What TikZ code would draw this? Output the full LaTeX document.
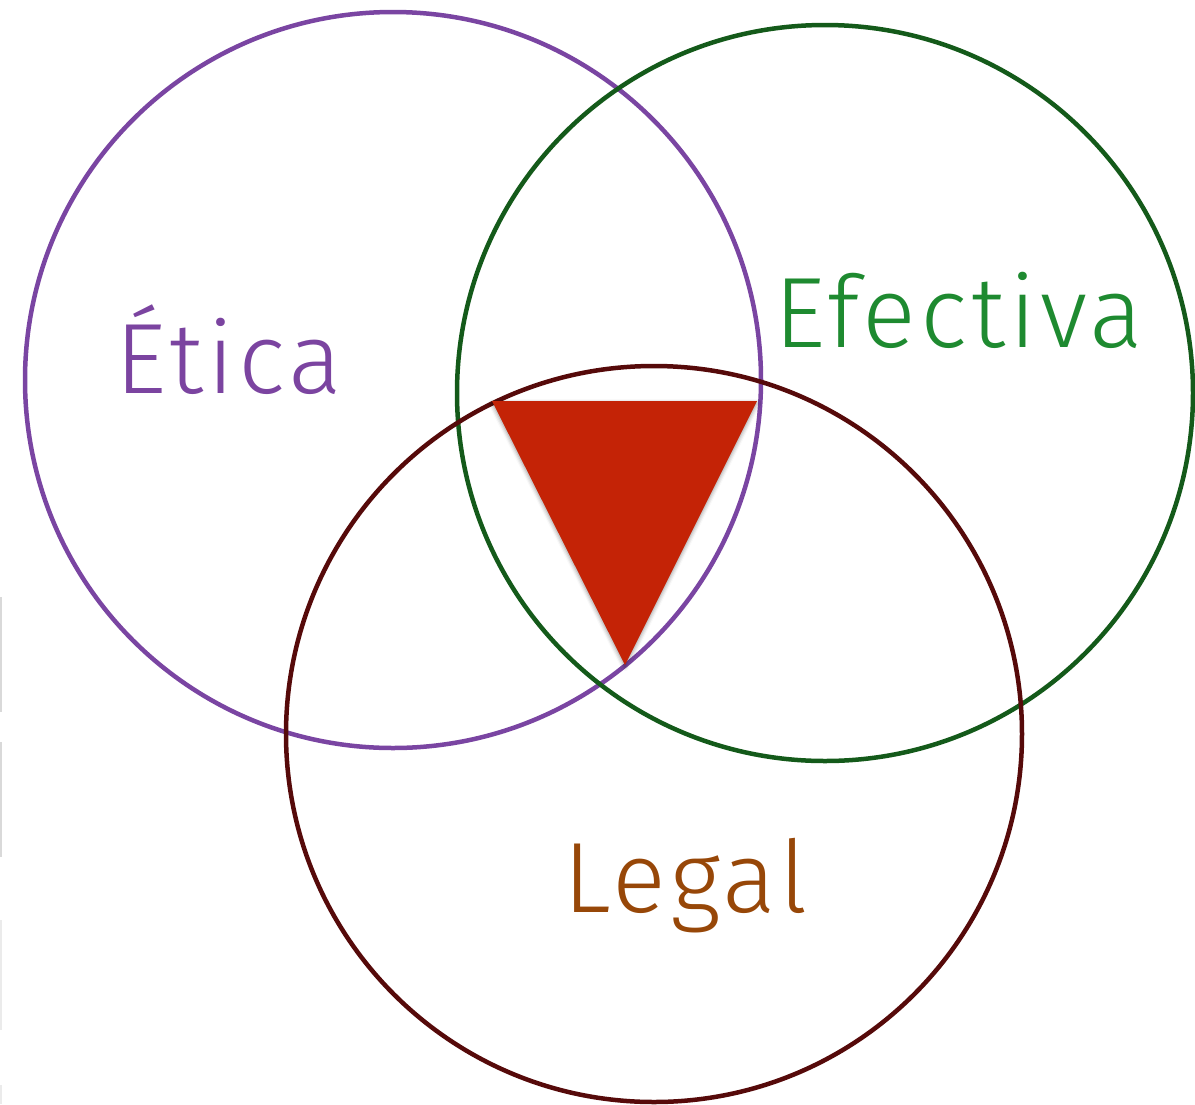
\documentclass[tikz,border=0pt]{standalone}
\usepackage{fontspec}
\newfontfamily\lbl[LetterSpace=4]{Fira Sans Light}
\usetikzlibrary{shadows.blur}
\definecolor{ringP}{HTML}{7A45A2}
\definecolor{ringG}{HTML}{145A1A}
\definecolor{ringR}{HTML}{560A0A}
\definecolor{txtP}{HTML}{7B44A0}
\definecolor{txtG}{HTML}{1E8A30}
\definecolor{txtB}{HTML}{974708}
\definecolor{tri}{HTML}{C42306}
\tikzset{
  ring/.style={circle, draw, line width=4.5pt, minimum size=736pt, inner sep=0pt},
  lab/.style={font=\lbl\fontsize{100}{100}\selectfont, anchor=base west, inner sep=0pt},
  edgebox/.style={draw=black!15, line width=2pt}
}
\begin{document}
\begin{tikzpicture}[x=1pt,y=-1pt]
\useasboundingbox (0,0) rectangle (1195,1104);
\node[ring, draw=ringP] (etica) at (393,380) {};
\node[ring, draw=ringG] (efectiva) at (825,393) {};
\node[ring, draw=ringR] (legal) at (654,734) {};
\coordinate (t1) at (492,401);
\coordinate (t2) at (757,401);
\coordinate (t3) at (625,665);
\fill[tri, blur shadow={shadow xshift=0pt, shadow yshift=-2pt, shadow blur radius=4pt, shadow opacity=40}] (t1) -- (t2) -- (t3) -- cycle;
\node[lab, text=txtP] (tE) at (115,393) {Ética};
\node[lab, text=txtG] (tF) at (774,347) {Efectiva};
\node[lab, text=txtB] (tL) at (563,912) {Legal};
\draw[edgebox] (1,597) -- (1,712);
\draw[edgebox] (1,742) -- (1,857);
\draw[edgebox, draw=black!8] (1,920) -- (1,1030);
\draw[edgebox, draw=black!8] (1,1085) -- (1,1104);
\end{tikzpicture}
\end{document}
